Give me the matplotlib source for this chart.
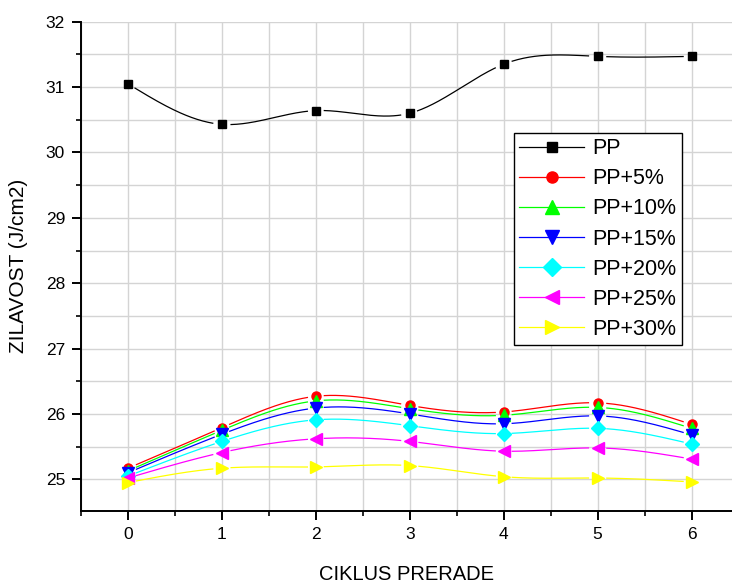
import numpy as np
import matplotlib
matplotlib.use("Agg")
import matplotlib.pyplot as plt
from matplotlib.ticker import MultipleLocator

plt.rcParams['font.family'] = ['Liberation Sans', 'DejaVu Sans']

cycles = [0, 1, 2, 3, 4, 5, 6]
pp = [31.05, 30.43, 30.64, 30.60, 31.35, 31.47, 31.47]
pp5 = [25.17, 25.79, 26.27, 26.13, 26.03, 26.17, 25.84]
pp10 = [25.13, 25.75, 26.20, 26.08, 25.98, 26.10, 25.78]
pp15 = [25.10, 25.69, 26.09, 26.00, 25.85, 25.97, 25.68]
pp20 = [25.05, 25.58, 25.91, 25.82, 25.70, 25.78, 25.54]
pp25 = [25.02, 25.41, 25.62, 25.58, 25.43, 25.48, 25.31]
pp30 = [24.95, 25.17, 25.19, 25.21, 25.04, 25.02, 24.96]

labels = ["PP", "PP+5%", "PP+10%", "PP+15%", "PP+20%", "PP+25%", "PP+30%"]
series = [pp, pp5, pp10, pp15, pp20, pp25, pp30]
colors = ["black", "red", "#00ff00", "blue", "cyan", "magenta", "yellow"]
markers = ["s", "o", "^", "v", "D", "<", ">"]
msizes = [5.5, 6.5, 8.5, 8.5, 7.5, 8.5, 8.5]


def natural_spline(x, y, n=400):
    x = np.asarray(x, float)
    y = np.asarray(y, float)
    k = len(x)
    h = np.diff(x)
    A = np.zeros((k, k))
    b = np.zeros(k)
    A[0, 0] = A[-1, -1] = 1
    for i in range(1, k - 1):
        A[i, i - 1] = h[i - 1]
        A[i, i] = 2 * (h[i - 1] + h[i])
        A[i, i + 1] = h[i]
        b[i] = 3 * ((y[i + 1] - y[i]) / h[i] - (y[i] - y[i - 1]) / h[i - 1])
    c = np.linalg.solve(A, b)
    xs = np.linspace(x[0], x[-1], n)
    idx = np.clip(np.searchsorted(x, xs) - 1, 0, k - 2)
    dx = xs - x[idx]
    bb = (y[idx + 1] - y[idx]) / h[idx] - h[idx] * (2 * c[idx] + c[idx + 1]) / 3
    d = (c[idx + 1] - c[idx]) / (3 * h[idx])
    ys = y[idx] + bb * dx + c[idx] * dx ** 2 + d * dx ** 3
    return xs, ys


fig = plt.figure(figsize=(7.32, 5.83), dpi=100)
ax = fig.add_axes([81 / 732, (583 - 510.7) / 583, 1 - 81 / 732, (510.7 - 21.7) / 583])
ax.set_xlim(-0.5, 6.43)
ax.set_ylim(24.52, 32)

ax.xaxis.set_major_locator(MultipleLocator(1))
ax.xaxis.set_minor_locator(MultipleLocator(0.5))
ax.yaxis.set_major_locator(MultipleLocator(1))
ax.yaxis.set_minor_locator(MultipleLocator(0.5))
ax.grid(which="both", color="#d4d4d4", linewidth=1.0)
ax.set_axisbelow(True)

for s in ["top", "right"]:
    ax.spines[s].set_visible(False)
for s in ["left", "bottom"]:
    ax.spines[s].set_linewidth(1.4)
ax.tick_params(which="major", direction="out", length=6.5, width=1.4,
               labelsize=12.5, pad=5)
ax.tick_params(which="minor", direction="out", length=3.5, width=1.2)

fig.canvas.draw()
to_px = ax.transData.transform
gap = 8.0

handles = []
for ys, col, mk, ms, lab in zip(series, colors, markers, msizes, labels):
    xs_s, ys_s = natural_spline(cycles, ys)
    pts = to_px(np.column_stack([xs_s, ys_s]))
    mpts = to_px(np.column_stack([cycles, ys]))
    dist = np.min(np.hypot(pts[:, None, 0] - mpts[None, :, 0],
                           pts[:, None, 1] - mpts[None, :, 1]), axis=1)
    yplot = np.where(dist < gap, np.nan, ys_s)
    ax.plot(xs_s, yplot, color=col, lw=0.9)
    ax.plot(cycles, ys, linestyle="none", marker=mk, ms=ms, color=col,
            markeredgecolor=col)
    h, = ax.plot([], [], color=col, lw=0.9, marker=mk, ms=ms + 1.5,
                 markeredgecolor=col, label=lab)
    handles.append(h)

ax.set_xlabel("CIKLUS PRERADE", fontsize=14.5, labelpad=17)
ax.set_ylabel("ZILAVOST (J/cm2)", fontsize=15, labelpad=13)

leg = ax.legend(handles=handles, loc="upper left",
                bbox_to_anchor=(514 / 732, 1 - 133 / 583),
                bbox_transform=fig.transFigure, fontsize=15.5, frameon=True,
                fancybox=False, edgecolor="black", framealpha=1,
                borderpad=0.25, labelspacing=0.42, handlelength=3.0,
                handletextpad=0.4, borderaxespad=0)
leg.get_frame().set_linewidth(1.0)

fig.savefig("out.png", dpi=100)
